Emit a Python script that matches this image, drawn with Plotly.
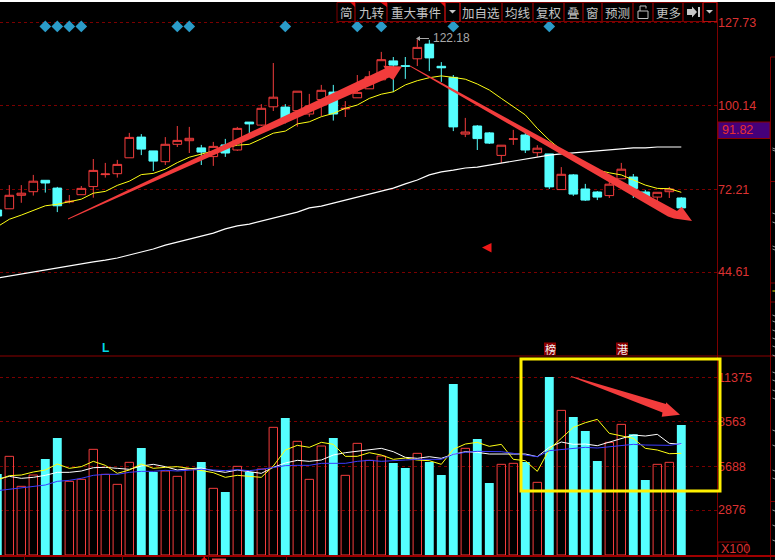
import plotly.graph_objects as go

W, H = 775, 560

open_ = [65.3,65.7,70.2,71.4,75.2,72.6,68.0,70.4,73.1,77.1,77.4,82.7,89.6,85.0,81.4,87.2,88.4,86.0,83.1,87.0,85.3,94.6,93.6,99.7,99.6,98.4,97.3,102.1,104.6,99.0,102.7,105.7,108.7,115.0,113.4,115.7,120.6,113.2,109.5,90.6,93.3,91.0,83.5,88.9,90.3,84.4,84.0,72.1,77.0,72.3,71.3,70.1,75.7,76.3,71.3,69.6,71.4,69.3]
close = [63.3,70.2,70.9,74.9,74.3,66.7,68.2,72.5,78.5,77.3,80.5,89.5,85.6,81.6,87.2,88.5,89.2,84.6,86.5,84.3,92.5,94.0,99.2,102.9,95.3,104.9,100.0,105.2,97.3,99.2,104.5,109.7,115.4,113.6,113.2,119.5,116.0,112.7,93.0,91.3,89.1,87.6,86.9,89.0,85.3,85.9,73.0,77.2,70.6,68.6,69.6,73.9,78.9,72.5,69.7,71.2,72.3,66.0]
high = [65.9,73.6,73.6,77.0,75.2,73.0,70.3,73.3,82.3,81.0,82.0,91.0,90.6,85.0,89.6,93.3,93.0,87.0,88.0,89.0,93.0,94.6,100.6,114.3,100.6,104.9,104.0,107.0,107.0,101.6,110.3,111.6,118.0,116.3,116.3,122.18,122.0,114.6,110.3,96.0,93.6,91.3,86.9,92.0,91.3,86.9,84.0,79.6,77.3,74.0,71.6,75.3,81.0,77.3,72.0,71.2,73.0,69.6]
low = [62.5,65.7,67.7,70.1,71.1,64.6,67.5,70.4,69.4,76.1,76.1,82.7,83.6,78.3,80.3,86.3,84.3,80.3,80.0,83.0,85.0,90.6,93.3,98.3,94.2,93.1,96.4,96.6,95.1,96.3,102.7,105.7,108.7,104.6,109.0,113.3,111.6,108.0,91.6,89.6,85.3,87.3,81.0,87.0,84.3,83.0,72.3,72.1,70.0,68.3,68.6,69.3,75.7,69.3,68.3,68.3,69.3,66.0]
ma_yellow = [59.7,62.2,63.6,65.1,66.7,67.2,68.0,68.9,70.9,71.5,73.5,74.9,77.1,77.5,78.9,81.1,82.9,84.0,84.9,86.0,86.9,87.2,89.0,90.9,91.6,94.0,94.7,96.4,97.5,99.2,100.3,102.5,103.9,104.7,107.0,108.4,109.4,110.0,109.5,108.9,107.3,105.3,102.5,99.7,97.0,92.5,88.6,85.3,82.2,80.3,78.6,77.7,77.0,75.3,73.6,72.5,72.4,71.2]
ma_white = [42.6,43.3,44.0,44.6,45.3,46.0,46.6,47.3,48.0,48.6,49.3,50.3,51.3,52.3,53.6,54.6,55.6,56.6,57.6,59.0,60.0,60.6,61.6,62.6,63.6,64.6,66.0,66.6,67.6,68.6,69.6,70.6,71.6,72.6,74.0,75.3,77.0,78.0,78.6,79.3,79.6,80.3,81.0,81.6,82.3,83.0,83.6,84.0,84.3,84.6,85.0,85.3,85.6,86.0,86.0,86.3,86.3,86.3]
volume = [5184,6314,4394,5119,6143,7487,4714,4842,6762,5162,4522,5930,6847,5311,5375,5034,5503,5951,4266,4031,5674,5311,5503,8170,8767,7274,4842,6975,7487,5098,7146,6058,6335,5887,5567,6506,5951,5119,10943,6826,7423,4607,5802,5866,5951,4650,11391,9257,8831,7935,6015,7210,8361,7722,4799,5802,5930,8319]
vol_yellow = [4800,5077,5120,5312,5440,5824,5546,5653,5994,5738,5226,5440,5824,5546,5610,5653,5546,5397,5269,4970,5098,5034,4970,5695,6719,7018,6890,7210,7082,6314,6314,6548,6399,6122,6207,6079,6036,5802,6762,7103,7210,6954,7082,6122,6036,5354,6762,7466,8169,8468,8681,7785,7636,7466,6826,6719,6484,6506]
vol_white = [4842,5034,4906,4970,5098,5290,5290,5375,5588,5610,5546,5482,5695,5802,5653,5440,5525,5567,5397,5290,5440,5354,5226,5610,5887,6058,5994,6079,6399,6548,6634,6698,6826,6612,6250,6186,6292,6186,6442,6612,6570,6463,6442,6463,6463,6292,6890,7231,7082,7103,6996,7231,7444,7679,7615,7722,7146,7082]
vol_blue = [4117,4202,4287,4394,4479,4714,4778,4906,5098,5162,5162,5290,5354,5354,5418,5375,5440,5482,5440,5397,5461,5397,5482,5610,5717,5738,5738,5866,5866,5866,5994,6058,5994,6058,6079,6122,6122,6122,6442,6570,6634,6612,6612,6506,6399,6292,6677,6762,6847,6890,6847,6933,7018,7082,7039,7039,7018,7125]
diamond_idx = [4,5,6,7,15,16,24,30,32,38,46]
diamond_price = [126.5] * len(diamond_idx)

price_ticks = [127.73, 100.14, 72.21, 44.61]
vol_ticks = [11375, 8563, 5688, 2876]
toolbar_labels = [("简",346),("九转",371),("重大事件",416),("加自选",481),("均线",518),("复权",548.7),("叠",573.7),("窗",592.8),("预测",617.8),("更多",668)]
toolbar_edges = [337,355,387,445,460,502,533,564,583,602,633,653,683,703,717]

RED = "#f23c3c"
CYAN = "#55ffff"
DARK = "#7d0000"
AXIS_TXT = "#dc3232"

x = list(range(len(close)))
up = [c >= o for o, c in zip(open_, close)]


def px(v):
    return v / W


def py(v):
    return 1 - v / H


def poly(points, color):
    d = "M " + " L ".join(f"{px(a):.5f},{py(b):.5f}" for a, b in points) + " Z"
    return dict(type="path", xref="paper", yref="paper", path=d, fillcolor=color, line=dict(width=0))


def rect(x0, y0, x1, y1, line=DARK, fill=None, w=1):
    return dict(type="rect", xref="paper", yref="paper", x0=px(x0), x1=px(x1), y0=py(y0), y1=py(y1),
                line=dict(color=line, width=w), fillcolor=fill if fill else "rgba(0,0,0,0)")


def seg(x0, y0, x1, y1, color=DARK, w=1):
    return dict(type="line", xref="paper", yref="paper", x0=px(x0), x1=px(x1), y0=py(y0), y1=py(y1),
                line=dict(color=color, width=w))


def label(text, xp, yp, color="#c4c4c4", size=12.5, anchor="center", font="Noto Sans CJK SC", bold=False):
    t = f"<b>{text}</b>" if bold else text
    return dict(text=t, xref="paper", yref="paper", x=px(xp), y=py(yp), xanchor=anchor, yanchor="middle",
                showarrow=False, font=dict(color=color, size=size, family=font))


fig = go.Figure()
fig.add_trace(go.Bar(x=[i for i, u in zip(x, up) if u], y=[v for v, u in zip(volume, up) if u], width=0.7,
                     marker=dict(color="rgba(0,0,0,0)", line=dict(color=RED, width=1)), yaxis="y2"))
fig.add_trace(go.Bar(x=[i for i, u in zip(x, up) if not u], y=[v for v, u in zip(volume, up) if not u], width=0.74,
                     marker=dict(color=CYAN, line=dict(width=0)), yaxis="y2"))
fig.add_trace(go.Candlestick(x=x, open=open_, high=high, low=low, close=close, whiskerwidth=0,
                             increasing=dict(line=dict(color=RED, width=1), fillcolor="#000000"),
                             decreasing=dict(line=dict(color=CYAN, width=1), fillcolor=CYAN), yaxis="y"))
fig.add_trace(go.Scatter(x=x, y=ma_yellow, mode="lines", line=dict(color="#ffff14", width=1), yaxis="y"))
fig.add_trace(go.Scatter(x=x, y=ma_white, mode="lines", line=dict(color="#ffffff", width=1.2), yaxis="y"))
fig.add_trace(go.Scatter(x=diamond_idx, y=diamond_price, mode="markers",
                         marker=dict(symbol="diamond", size=9, color="#2b9cc9"), yaxis="y"))
fig.add_trace(go.Scatter(x=x, y=vol_white, mode="lines", line=dict(color="#ffffff", width=1), yaxis="y2"))
fig.add_trace(go.Scatter(x=x, y=vol_yellow, mode="lines", line=dict(color="#ffff14", width=1), yaxis="y2"))
fig.add_trace(go.Scatter(x=x, y=vol_blue, mode="lines", line=dict(color="#3c3cff", width=1), yaxis="y2"))

shapes = [rect(0, 0, 775, 2, line="#ffffff", fill="#ffffff", w=0)]
for a, b in zip(toolbar_edges[:-1], toolbar_edges[1:]):
    shapes.append(rect(a, 2.5, b, 21.5))
shapes += [rect(445, 2.5, 460, 21.5, line="#b01010"), rect(703, 2.5, 717, 21.5, line="#b01010")]
shapes += [poly([(350, 2), (355, 2), (355, 7)], "#e01010"), poly([(380, 2), (387, 2), (387, 7)], "#e01010"),
           poly([(440, 2), (445, 2), (445, 7)], "#e01010")]
shapes += [poly([(449, 10), (456, 10), (452.5, 13.5)], "#c8c8c8"), poly([(706, 10), (713, 10), (709.5, 13.5)], "#c8c8c8")]
shapes += [poly([(687, 9), (692, 9), (692, 6.5), (697, 12), (692, 17.5), (692, 15), (687, 15)], "#c8c8c8"),
           rect(698, 7, 700, 17, line="#c8c8c8", fill="#c8c8c8", w=0)]
shapes += [rect(638, 11, 648, 18.5, line="#c0c0c0"),
           dict(type="path", xref="paper", yref="paper", line=dict(color="#c0c0c0", width=1),
                path=f"M {px(640)},{py(11)} L {px(640)},{py(6)} L {px(646)},{py(6)} L {px(646)},{py(8.5)}")]
shapes += [seg(717.5, 2, 717.5, 560), seg(770.5, 57, 770.5, 560), seg(770.5, 57, 775, 57),
           seg(0, 356, 775, 356, color="#8c0000", w=1), seg(0, 556, 775, 556, color="#a00000", w=2),
           rect(718, 122, 770, 138.5, line="#8c0000", fill="#45007a"), rect(718, 542, 747, 555, line="#8c0000")]
for tick_y in [181.5, 283, 302, 501.5]:
    shapes.append(seg(770.5, tick_y, 775, tick_y))
for glyph_y in [148, 150, 213, 222, 246, 249, 315, 321, 330, 338, 346, 355, 372, 380, 390, 398, 430, 445, 470, 478, 510, 525, 540]:
    shapes.append(seg(772.5, glyph_y, 775, glyph_y + 1, color="#9a9a9a"))
shapes.append(seg(772.5, 291, 775, 291, color="#e8e800"))
for tick_x in [24.5, 122.5, 208.5, 286.5]:
    shapes.append(seg(tick_x, 556, tick_x, 560))
shapes += [poly([(201.5, 559), (203.5, 558), (203.5, 556.5), (205, 556.5), (205, 558), (207, 559), (207, 560), (201.5, 560)], "#e01010"),
           rect(212, 558.5, 226, 560, line="#e04040", fill="#e04040", w=0)]
shapes += [rect(544, 342.5, 556, 355, line="#8c0000", fill="#8c0000", w=0),
           rect(616, 342.5, 628, 355, line="#8c0000", fill="#8c0000", w=0)]
shapes += [poly([(482, 247.5), (491.5, 243), (491.5, 252.5)], "#f01818")]
shapes += [seg(417, 38.5, 429, 38.5, color="#a8a8a8"), poly([(416, 38.5), (420, 36), (420, 41)], "#a8a8a8")]
shapes += [rect(521, 359, 720, 491, line="#fff000", w=3)]
shapes += [poly([(68, 218.5), (384.9, 68.4), (383.3, 65.7), (402, 66.5), (393.3, 80), (389.1, 77.6), (68, 219.5)], RED),
           poly([(410, 65.5), (677, 211), (681.7, 206.7), (692, 221), (674, 218.5), (668, 216.5), (410, 66.5)], RED),
           poly([(571, 376), (666, 404), (666, 402.3), (680, 414.7), (661.7, 416.7), (662.5, 412.5), (571, 376.8)], RED)]

annotations = [label(t, c, 12) for t, c in toolbar_labels]
annotations += [label("122.18", 431, 38.5, color="#a8a8a8", size=12, anchor="left", font="Liberation Sans"),
                label("91.82", 720, 130, color="#e83030", size=12.5, anchor="left", font="Liberation Sans"),
                label("X100", 719, 548.5, color=AXIS_TXT, size=12.5, anchor="left", font="Liberation Sans"),
                label("L", 105.5, 348, color="#00d8e8", size=12, font="Liberation Sans", bold=True),
                label("榜", 550, 348.5, color="#f0f0f0", size=11), label("港", 622, 348.5, color="#f0f0f0", size=11)]

tick_font = dict(color=AXIS_TXT, size=12.5, family="Liberation Sans")
fig.update_layout(
    width=W, height=H, margin=dict(l=0, r=0, t=0, b=0), autosize=False,
    paper_bgcolor="#000000", plot_bgcolor="#000000", showlegend=False, hovermode=False, barmode="overlay",
    boxmode="overlay", boxgap=0.28, boxgroupgap=0,
    xaxis=dict(domain=[0, 717 / W], range=[0.225, 59.975], visible=False, rangeslider=dict(visible=False), anchor="y"),
    yaxis=dict(domain=[1 - 356 / H, 1], range=[16.63, 135.3], side="right", anchor="x", tickvals=price_ticks,
               ticktext=[f"{v:.2f}" for v in price_ticks], tickfont=tick_font, ticks="", showline=False,
               zeroline=False, showgrid=True, gridcolor="#7a0000", griddash="dot", gridwidth=1),
    yaxis2=dict(domain=[5 / H, 1 - 356 / H], range=[0, 12736], side="right", anchor="x", tickvals=vol_ticks,
                ticktext=[str(v) for v in vol_ticks], tickfont=tick_font, ticks="", showline=False,
                zeroline=False, showgrid=True, gridcolor="#7a0000", griddash="dot", gridwidth=1),
    shapes=shapes, annotations=annotations,
)
fig.write_html("out.html", config={"displayModeBar": False},
               post_script="document.body.style.margin='0';document.body.style.background='#000';document.body.style.overflow='hidden';")
